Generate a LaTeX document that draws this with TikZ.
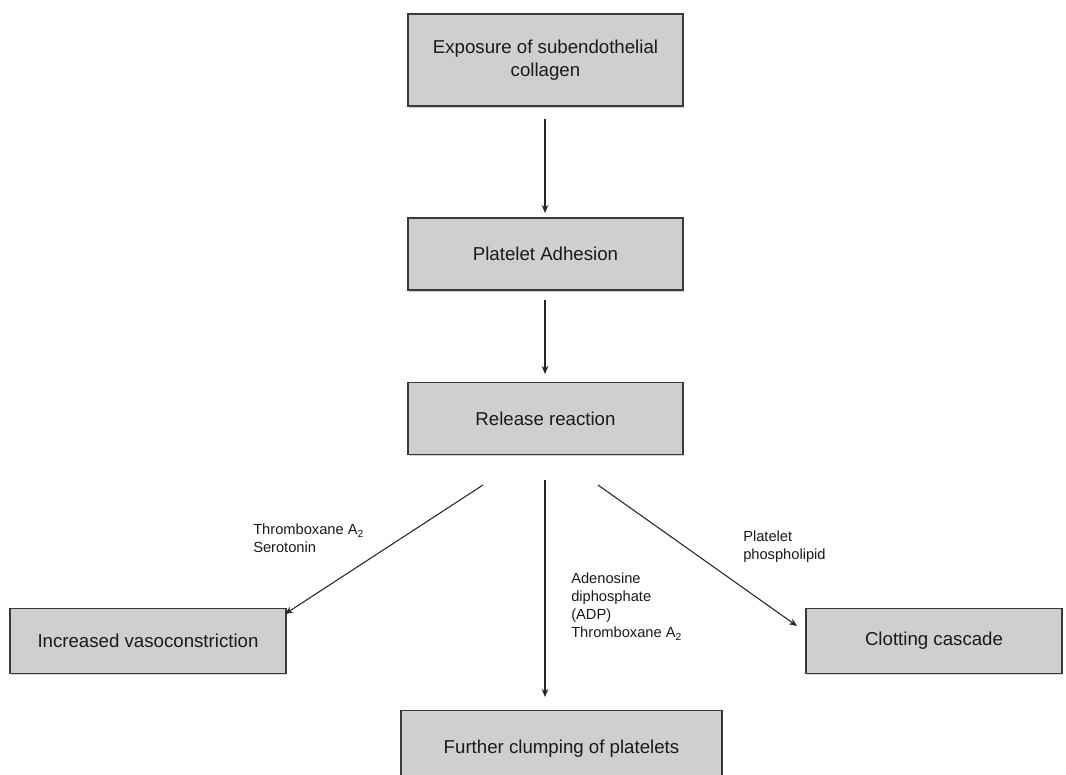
\documentclass[tikz,border=0pt]{standalone}
\usepackage{fontspec}
\setmainfont{Liberation Sans}
\usetikzlibrary{arrows.meta,shadows}
\definecolor{boxfill}{HTML}{CFCFCF}
\definecolor{boxline}{HTML}{3A3A3A}
\definecolor{txt}{HTML}{1A1A1A}
\tikzset{
  box/.style={draw=boxline, line width=0.9pt, fill=boxfill, align=center, text=txt,
    font=\fontsize{14}{17}\selectfont, inner sep=0pt,
    drop shadow={shadow xshift=0.8pt, shadow yshift=-1.2pt, opacity=0.35}},
  conn/.style={-{Stealth[length=6pt,width=5pt]}, line width=0.8pt, black!85},
  lbl/.style={font=\fontsize{11}{13.5}\selectfont, text=txt, align=left, anchor=north west, inner sep=0pt}
}
\begin{document}
\begin{tikzpicture}[x=0.75pt,y=-0.75pt]
\clip (0,0) rectangle (1066,774);
\useasboundingbox (0,0) rectangle (1066,774);
\fill[white] (0,0) rectangle (1066,774);
\node[box, minimum width=275*0.75pt, minimum height=92*0.75pt] (expo) at (545.5,60) {Exposure of subendothelial\\collagen};
\node[box, minimum width=275*0.75pt, minimum height=72*0.75pt] (adh) at (545.5,254) {Platelet Adhesion};
\node[box, minimum width=275*0.75pt, minimum height=72*0.75pt] (rel) at (545.5,418.5) {Release reaction};
\node[box, minimum width=276*0.75pt, minimum height=65*0.75pt] (vaso) at (148,641) {Increased vasoconstriction};
\node[box, minimum width=256*0.75pt, minimum height=65*0.75pt] (clot) at (934,641) {Clotting cascade};
\node[box, minimum width=321*0.75pt, minimum height=80*0.75pt, anchor=north] (clump) at (561.5,710) {};
\node[font=\fontsize{14}{17}\selectfont, text=txt] (clumptxt) at (561.5,749) {Further clumping of platelets};
\coordinate (s1) at (545,119);
\coordinate (e1) at (545,213);
\coordinate (s2) at (545,300);
\coordinate (e2) at (545,374);
\coordinate (sl) at (483,485);
\coordinate (el) at (285,614);
\coordinate (sm) at (545,480);
\coordinate (em) at (545,697);
\coordinate (sr) at (598,485);
\coordinate (er) at (797,626);
\draw[conn] (s1) -- (e1);
\draw[conn] (s2) -- (e2);
\draw[conn] (sl) -- (el);
\draw[conn] (sm) -- (em);
\draw[conn] (sr) -- (er);
\node[lbl] (l1) at (253,524) {Thromboxane A\textsubscript{2}\\Serotonin};
\node[lbl] (l2) at (571,573) {Adenosine\\diphosphate\\(ADP)\\Thromboxane A\textsubscript{2}};
\node[lbl] (l3) at (743,531) {Platelet\\phospholipid};
\end{tikzpicture}
\end{document}
